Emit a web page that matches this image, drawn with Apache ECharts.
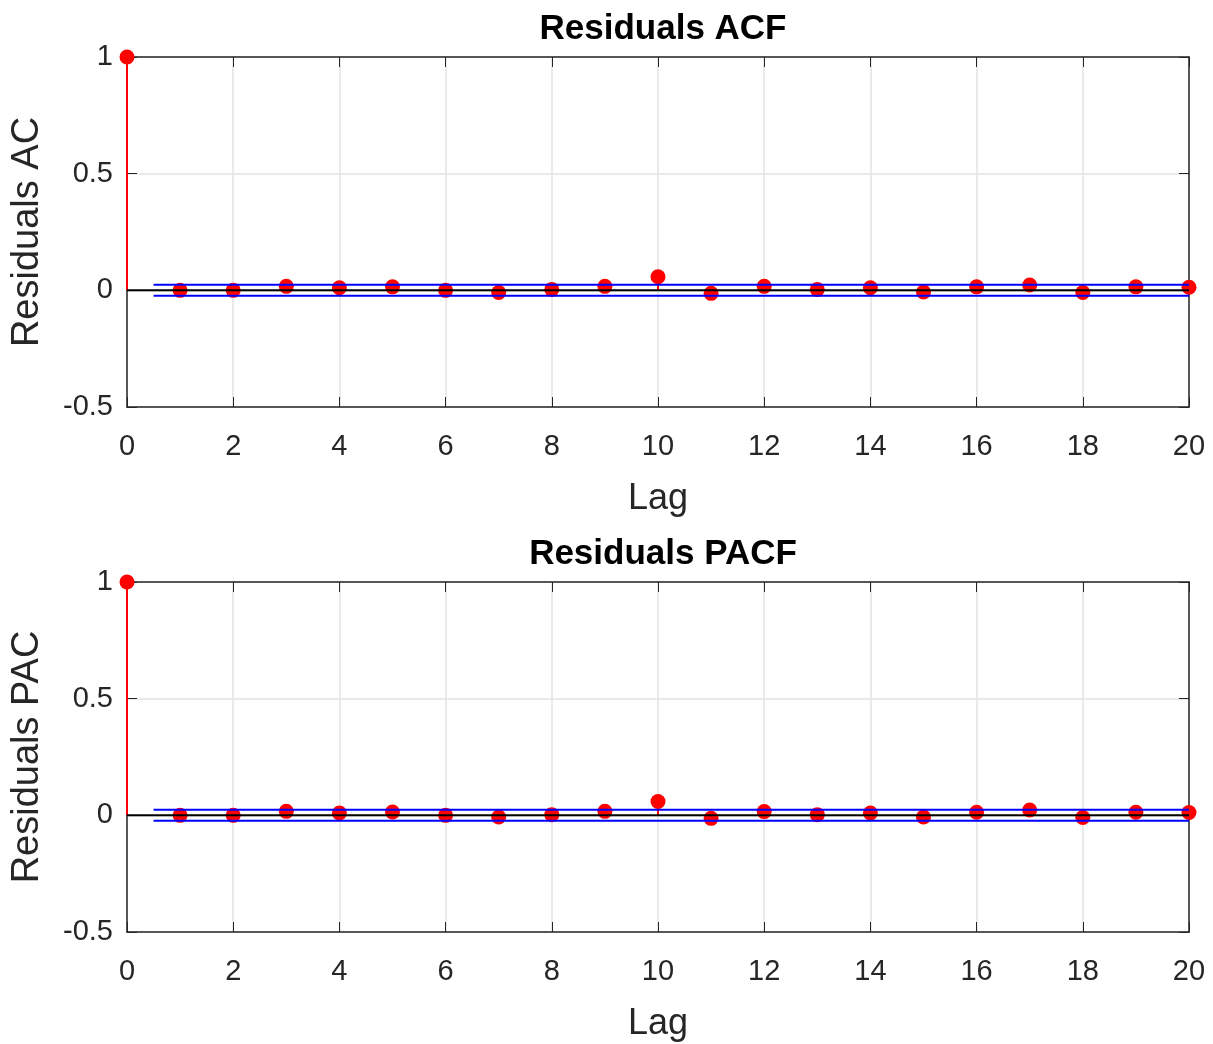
<!DOCTYPE html>
<html><head><meta charset="utf-8">
<script src="https://cdn.jsdelivr.net/npm/echarts@6/dist/echarts.min.js"></script>
<style>html,body{margin:0;padding:0;background:#fff}#c{width:1213px;height:1044px}</style>
</head><body><div id="c"></div>
<script>
const lags = [0,1,2,3,4,5,6,7,8,9,10,11,12,13,14,15,16,17,18,19,20];
const acfValues = [1,0.000,0.000,0.017,0.011,0.015,0.000,-0.009,0.004,0.017,0.058,-0.013,0.017,0.004,0.011,-0.007,0.015,0.023,-0.009,0.015,0.013];
const pacfValues = [1,0.000,0.000,0.017,0.010,0.014,0.000,-0.007,0.003,0.017,0.059,-0.013,0.016,0.003,0.010,-0.007,0.013,0.023,-0.009,0.013,0.012];
const confBound = 0.0236;
const boundStart = 0.5, boundEnd = 20;
const titles = ['Residuals ACF','Residuals PACF'];
const yNames = ['Residuals AC','Residuals PAC'];
const xName = 'Lag';

const font = '"Liberation Sans", Arial, Helvetica, sans-serif';
const txt = '#262626';
const chart = echarts.init(document.getElementById('c'));
const grids = [{left:127, top:57, width:1062, height:350}, {left:127, top:582, width:1062, height:350}];
const xAxes = [], yAxes = [], series = [], title = [];
[acfValues, pacfValues].forEach((vals, i) => {
  title.push({text: titles[i], left: 658, top: grids[i].top - 50, textAlign: 'center',
    textStyle: {fontFamily: font, fontSize: 35, fontWeight: 'bold', color: '#000'}});
  const common = {gridIndex: i, type: 'value'};
  xAxes.push(Object.assign({}, common, {position:'bottom', min:0, max:20, interval:2,
    name: xName, nameLocation:'middle', nameGap: 74,
    nameTextStyle:{fontFamily:font, fontSize:36, color:txt},
    axisLine:{show:true, onZero:false, lineStyle:{color:txt, width:1.5}},
    axisTick:{show:true, inside:true, length:10, lineStyle:{color:txt}},
    axisLabel:{fontFamily:font, fontSize:29, color:txt, margin:25},
    splitLine:{show:true, lineStyle:{color:'#e3e3e3', width:1.5}}}));
  xAxes.push(Object.assign({}, common, {position:'top', min:0, max:20, interval:2,
    axisLine:{show:true, onZero:false, lineStyle:{color:txt, width:1.5}},
    axisTick:{show:true, inside:true, length:10, lineStyle:{color:txt}},
    axisLabel:{show:false}, splitLine:{show:false}}));
  yAxes.push(Object.assign({}, common, {position:'left', min:-0.5, max:1, interval:0.5,
    name: yNames[i], nameLocation:'middle', nameGap: 80, nameRotate: 90,
    nameTextStyle:{fontFamily:font, fontSize:38, color:txt},
    axisLine:{show:true, onZero:false, lineStyle:{color:txt, width:1.5}},
    axisTick:{show:true, inside:true, length:10, lineStyle:{color:txt}},
    axisLabel:{fontFamily:font, fontSize:29, color:txt, margin:14},
    splitLine:{show:true, lineStyle:{color:'#e3e3e3', width:1.5}}}));
  yAxes.push(Object.assign({}, common, {position:'right', min:-0.5, max:1, interval:0.5,
    axisLine:{show:true, onZero:false, lineStyle:{color:txt, width:1.5}},
    axisTick:{show:true, inside:true, length:10, lineStyle:{color:txt}},
    axisLabel:{show:false}, splitLine:{show:false}}));
  const xi = i*2, yi = i*2;
  const pts = lags.map((l, k) => [l, vals[k]]);
  series.push({type:'bar', xAxisIndex:xi, yAxisIndex:yi, data: pts, barWidth:2,
    itemStyle:{color:'#ff0000'}, silent:true, z:2});
  series.push({type:'scatter', xAxisIndex:xi, yAxisIndex:yi, data: pts, symbolSize:15,
    itemStyle:{color:'#ff0000', opacity:1}, z:3});
  series.push({type:'line', xAxisIndex:xi, yAxisIndex:yi, data:[[0,0],[20,0]], symbol:'none',
    lineStyle:{color:'#000', width:2}, z:4});
  series.push({type:'line', xAxisIndex:xi, yAxisIndex:yi, data:[[boundStart,confBound],[boundEnd,confBound]], symbol:'none',
    lineStyle:{color:'#0000ff', width:2}, z:4});
  series.push({type:'line', xAxisIndex:xi, yAxisIndex:yi, data:[[boundStart,-confBound],[boundEnd,-confBound]], symbol:'none',
    lineStyle:{color:'#0000ff', width:2}, z:4});
});
chart.setOption({animation:false, backgroundColor:'#fff', title, grid:grids, xAxis:xAxes, yAxis:yAxes, series});
</script></body></html>
